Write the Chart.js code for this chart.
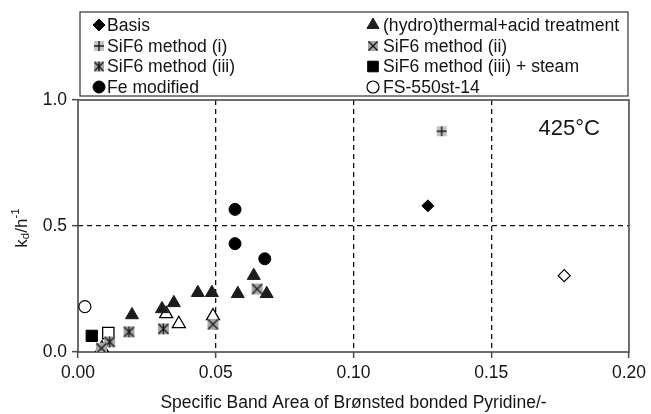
<!DOCTYPE html>
<html>
<head>
<meta charset="utf-8">
<script src="https://cdn.jsdelivr.net/npm/chart.js@4/dist/chart.umd.min.js"></script>
<style>
    html, body { margin: 0; padding: 0; background: #fff; }
    #wrap { width: 651px; height: 414px; }
</style>
</head>
<body>
<div id="wrap"><canvas id="kdChart" width="651" height="414"></canvas></div>
<script>
// values
const basisX = [0.127];
const basisY = [0.58];
const basisOpenX = [0.1765];
const basisOpenY = [0.303];
const hydroX = [0.0196, 0.0305, 0.0348, 0.0435, 0.0486, 0.058, 0.0638, 0.0685];
const hydroY = [0.147, 0.171, 0.195, 0.235, 0.235, 0.231, 0.303, 0.231];
const hydroOpenX = [0.0087, 0.032, 0.0366, 0.049];
const hydroOpenY = [0.015, 0.151, 0.112, 0.143];
const sif1X = [0.132];
const sif1Y = [0.876];
const sif2X = [0.0085, 0.049, 0.065];
const sif2Y = [0.015, 0.11, 0.25];
const sif3X = [0.0115, 0.0185, 0.031];
const sif3Y = [0.04, 0.08, 0.092];
const steamX = [0.005];
const steamY = [0.064];
const steamOpenX = [0.011];
const steamOpenY = [0.075];
const feX = [0.057, 0.057, 0.0678];
const feY = [0.566, 0.43, 0.37];
const fsX = [0.0025];
const fsY = [0.18];

const xTicks = [0, 0.05, 0.10, 0.15, 0.20];
const yTicks = [0, 0.5, 1.0];

const FONT = "'Liberation Sans', Arial, sans-serif";
const TEXT = '#141414';

const pts = (xs, ys) => xs.map((x, i) => ({ x, y: ys[i] }));

// grey boxed markers used for the SiF6 series
function boxMarker(kind, size) {
    const c = document.createElement('canvas');
    c.width = size; c.height = size;
    const g = c.getContext('2d');
    const m = 1, e = size - 1, h = size / 2;
    g.fillStyle = kind === 'plus' ? '#c4c4c4' : '#a8a8a8';
    g.fillRect(m, m, e - m, e - m);
    g.strokeStyle = '#1a1a1a';
    g.lineWidth = 1.4;
    g.beginPath();
    if (kind === 'plus') {
        g.moveTo(h, m); g.lineTo(h, e);
        g.moveTo(m, h); g.lineTo(e, h);
    } else {
        g.moveTo(m + 0.5, m + 0.5); g.lineTo(e - 0.5, e - 0.5);
        g.moveTo(e - 0.5, m + 0.5); g.lineTo(m + 0.5, e - 0.5);
        if (kind === 'star') { g.moveTo(h, m); g.lineTo(h, e); }
    }
    g.stroke();
    return c;
}

const plusImg = boxMarker('plus', 12);
const xImg = boxMarker('x', 13);
const starImg = boxMarker('star', 13);
const plusImgSm = boxMarker('plus', 12);
const xImgSm = boxMarker('x', 12);
const starImgSm = boxMarker('star', 12);

const datasets = [
    { label: 'Basis', data: pts(basisX, basisY), pointStyle: 'rectRot', pointRadius: 6,
      backgroundColor: '#000', borderColor: '#000', borderWidth: 1, legendCol: 0, legendRow: 0 },
    { label: '(hydro)thermal+acid treatment', data: pts(hydroX, hydroY), pointStyle: 'triangle', pointRadius: 7.5,
      backgroundColor: '#1c1c1c', borderColor: '#1c1c1c', borderWidth: 1, legendCol: 1, legendRow: 0 },
    { label: 'SiF6 method (i)', data: pts(sif1X, sif1Y), pointStyle: plusImg, legendImg: plusImgSm,
      backgroundColor: '#999', borderColor: '#000', legendCol: 0, legendRow: 1 },
    { label: 'SiF6 method (ii)', data: pts(sif2X, sif2Y), pointStyle: xImg, legendImg: xImgSm,
      backgroundColor: '#999', borderColor: '#000', legendCol: 1, legendRow: 1 },
    { label: 'SiF6 method (iii)', data: pts(sif3X, sif3Y), pointStyle: starImg, legendImg: starImgSm,
      backgroundColor: '#999', borderColor: '#000', legendCol: 0, legendRow: 2 },
    { label: 'SiF6 method (iii) + steam', data: pts(steamX, steamY), pointStyle: 'rect', pointRadius: 8,
      backgroundColor: '#000', borderColor: '#000', borderWidth: 1, legendCol: 1, legendRow: 2 },
    { label: 'Fe modified', data: pts(feX, feY), pointStyle: 'circle', pointRadius: 6,
      backgroundColor: '#000', borderColor: '#000', borderWidth: 1, legendCol: 0, legendRow: 3 },
    { label: 'FS-550st-14', data: pts(fsX, fsY), pointStyle: 'circle', pointRadius: 6,
      backgroundColor: '#fff', borderColor: '#000', borderWidth: 1.2, legendCol: 1, legendRow: 3 },
    // open symbols, not in the legend
    { label: 'Basis (open)', data: pts(basisOpenX, basisOpenY), pointStyle: 'rectRot', pointRadius: 6,
      backgroundColor: '#fff', borderColor: '#000', borderWidth: 1.2 },
    { label: 'hydro (open)', data: pts(hydroOpenX, hydroOpenY), pointStyle: 'triangle', pointRadius: 7.5,
      backgroundColor: '#fff', borderColor: '#000', borderWidth: 1.3 },
    { label: 'steam (open)', data: pts(steamOpenX, steamOpenY), pointStyle: 'rect', pointRadius: 8,
      backgroundColor: '#fff', borderColor: '#000', borderWidth: 1.3 }
];

const isEdge = (v, min, max) => Math.abs(v - min) < 1e-9 || Math.abs(v - max) < 1e-9;

// frame, legend box, y title and temperature label
const decorPlugin = {
    id: 'decor',
    beforeDatasetsDraw(chart) {
        const { ctx, chartArea: a } = chart;
        ctx.save();
        ctx.strokeStyle = '#4a4a4a';
        ctx.lineWidth = 1.6;
        ctx.strokeRect(a.left, a.top, a.right - a.left, a.bottom - a.top);
        ctx.restore();
    },
    afterDraw(chart) {
        const { ctx, chartArea: a } = chart;
        ctx.save();

        // legend box
        const boxTop = 12, boxBottom = 96, boxLeft = 80, boxRight = a.right - 1;
        ctx.strokeStyle = '#333';
        ctx.lineWidth = 1.2;
        ctx.strokeRect(boxLeft, boxTop, boxRight - boxLeft, boxBottom - boxTop);
        const rowY = [25, 46, 66.5, 87];
        const markX = [99, 373];
        const textX = [107, 383];
        ctx.font = `17.6px ${FONT}`;
        ctx.textBaseline = 'middle';
        ctx.fillStyle = TEXT;
        chart.data.datasets.forEach((ds) => {
            if (ds.legendCol === undefined) return;
            const mx = markX[ds.legendCol], my = rowY[ds.legendRow];
            if (ds.legendImg) {
                ctx.drawImage(ds.legendImg, mx - ds.legendImg.width / 2, my - ds.legendImg.height / 2);
            } else {
                ctx.fillStyle = ds.backgroundColor;
                ctx.strokeStyle = ds.borderColor;
                ctx.lineWidth = ds.borderWidth;
                const r = ds.pointStyle === 'triangle' ? 7 : ds.pointStyle === 'rect' ? 7.5 : 6;
                Chart.helpers.drawPoint(ctx, { pointStyle: ds.pointStyle, radius: r, rotation: 0, borderWidth: ds.borderWidth }, mx, my);
            }
            ctx.fillStyle = TEXT;
            ctx.fillText(ds.label, textX[ds.legendCol], my + 1);
        });

        // temperature label
        ctx.font = `22px ${FONT}`;
        ctx.textAlign = 'right';
        ctx.fillText('425°C', 600, 129);

        // y title: k_d / h^-1, rotated
        ctx.translate(22, 228);
        ctx.rotate(-Math.PI / 2);
        const big = `17px ${FONT}`, small = `11.5px ${FONT}`;
        const parts = [
            { t: 'k', f: big, dy: 0 },
            { t: 'd', f: small, dy: 4 },
            { t: '/h', f: big, dy: 0 },
            { t: '-1', f: small, dy: -6 }
        ];
        let total = 0;
        parts.forEach(p => { ctx.font = p.f; p.w = ctx.measureText(p.t).width; total += p.w; });
        let x = -total / 2;
        ctx.textAlign = 'left';
        parts.forEach(p => {
            ctx.font = p.f;
            ctx.fillText(p.t, x, p.dy);
            x += p.w;
        });
        ctx.restore();
    }
};

new Chart(document.getElementById('kdChart').getContext('2d'), {
    type: 'scatter',
    data: { datasets },
    options: {
        responsive: false,
        animation: false,
        layout: { padding: { top: 100, right: 21, left: 0, bottom: 0 } },
        plugins: { legend: { display: false }, tooltip: { enabled: false } },
        scales: {
            x: {
                type: 'linear',
                min: xTicks[0],
                max: xTicks[xTicks.length - 1],
                afterBuildTicks: (s) => { s.ticks = xTicks.map(v => ({ value: v })); },
                afterFit: (s) => { s.height = 62; },
                ticks: {
                    callback: (v) => Number(v).toFixed(2),
                    font: { family: FONT, size: 17.5 },
                    color: TEXT,
                    padding: 5,
                    maxRotation: 0
                },
                grid: {
                    color: (c) => isEdge(c.tick.value, 0, 0.2) ? 'rgba(0,0,0,0)' : '#111',
                    lineWidth: 1.3,
                    drawTicks: true,
                    tickLength: 6,
                    tickColor: '#4a4a4a',
                    tickWidth: 1.5
                },
                border: { display: false, dash: [5, 4] },
                title: {
                    display: true,
                    text: 'Specific Band Area of Brønsted bonded Pyridine/-',
                    font: { family: FONT, size: 17.5 },
                    color: TEXT,
                    padding: { top: 0, bottom: 0 }
                }
            },
            y: {
                type: 'linear',
                min: yTicks[0],
                max: yTicks[yTicks.length - 1],
                afterBuildTicks: (s) => { s.ticks = yTicks.map(v => ({ value: v })); },
                afterFit: (s) => { s.width = 78; },
                ticks: {
                    callback: (v) => Number(v).toFixed(1),
                    font: { family: FONT, size: 17.5 },
                    color: TEXT,
                    padding: 5
                },
                grid: {
                    color: (c) => isEdge(c.tick.value, 0, 1) ? 'rgba(0,0,0,0)' : '#111',
                    lineWidth: 1.3,
                    drawTicks: true,
                    tickLength: 6,
                    tickColor: '#4a4a4a',
                    tickWidth: 1.5
                },
                border: { display: false, dash: [5, 4] }
            }
        }
    },
    plugins: [decorPlugin]
});
</script>
</body>
</html>
